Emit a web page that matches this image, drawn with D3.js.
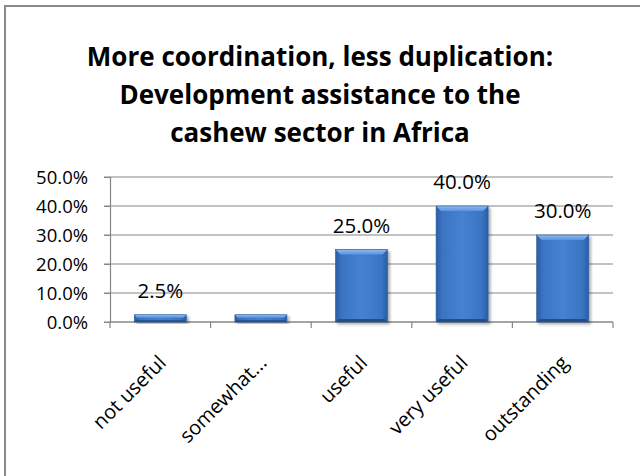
<!DOCTYPE html>
<html>
<head>
<meta charset="utf-8">
<script src="https://cdn.jsdelivr.net/npm/d3@7"></script>
<style>
  html, body { margin: 0; padding: 0; background: #fff; }
  svg { display: block; }
  text { font-family: "Open Sans", "Noto Sans", sans-serif; fill: #000; }
</style>
</head>
<body>
<svg id="chart" width="640" height="476"></svg>
<script>
const titleLines = ["More coordination, less duplication:", "Development assistance to the", "cashew sector in Africa"];
const categories = ["not useful", "somewhat...", "useful", "very useful", "outstanding"];
const values = [0.025, 0.025, 0.25, 0.40, 0.30];
const valueLabels = ["2.5%", "", "25.0%", "40.0%", "30.0%"];
const yTicks = [0, 0.1, 0.2, 0.3, 0.4, 0.5];

const svg = d3.select("#chart");
const W = 640, H = 476;
const plot = { left: 110, right: 613, top: 177, bottom: 322 };

// frame
svg.append("rect").attr("x", 5).attr("y", 6).attr("width", W + 20).attr("height", H + 20)
  .attr("fill", "#fff").attr("stroke", "#8a8a8a").attr("stroke-width", 2);

// defs
const defs = svg.append("defs");
const g1 = defs.append("linearGradient").attr("id", "barGrad").attr("x1", "0").attr("x2", "1").attr("y1", "0").attr("y2", "0");
g1.append("stop").attr("offset", "0%").attr("stop-color", "#2a5ea6");
g1.append("stop").attr("offset", "12%").attr("stop-color", "#3a74c2");
g1.append("stop").attr("offset", "50%").attr("stop-color", "#4582d2");
g1.append("stop").attr("offset", "88%").attr("stop-color", "#3a74c2");
g1.append("stop").attr("offset", "100%").attr("stop-color", "#2a5ea6");
const g2 = defs.append("linearGradient").attr("id", "topGrad").attr("x1", "0").attr("x2", "0").attr("y1", "0").attr("y2", "1");
g2.append("stop").attr("offset", "0%").attr("stop-color", "#8dbcf2");
g2.append("stop").attr("offset", "100%").attr("stop-color", "#5b93de");
const f = defs.append("filter").attr("id", "shadow").attr("x", "-20%").attr("y", "-20%").attr("width", "140%").attr("height", "140%");
f.append("feGaussianBlur").attr("in", "SourceAlpha").attr("stdDeviation", 1.5);
f.append("feOffset").attr("dx", 1.5).attr("dy", 2).attr("result", "ob");
f.append("feComponentTransfer").append("feFuncA").attr("type", "linear").attr("slope", 0.35);
const fm = f.append("feMerge");
fm.append("feMergeNode");
fm.append("feMergeNode").attr("in", "SourceGraphic");

// title
svg.append("g").selectAll("text").data(titleLines).join("text")
  .attr("x", 320).attr("y", (d, i) => 66 + i * 38)
  .attr("text-anchor", "middle").attr("font-weight", "bold").attr("font-size", 26)
  .text(d => d);

const x = d3.scaleBand().domain(categories).range([plot.left, plot.right]).paddingInner(0.483).paddingOuter(0.2415);
const y = d3.scaleLinear().domain([0, 0.5]).range([plot.bottom, plot.top]);

// gridlines
svg.append("g").selectAll("line").data(yTicks).join("line")
  .attr("x1", plot.left - 6).attr("x2", plot.right)
  .attr("y1", d => y(d)).attr("y2", d => y(d))
  .attr("stroke", "#868686").attr("stroke-width", 1.2);

// y axis
const yAxis = svg.append("g").attr("transform", `translate(${plot.left},0)`)
  .call(d3.axisLeft(y).tickValues(yTicks).tickFormat(d3.format(".1%")).tickSize(6).tickPadding(16));
yAxis.attr("font-family", null);
yAxis.select(".domain").attr("stroke", "#868686").attr("stroke-width", 1.2);
yAxis.selectAll(".tick line").attr("stroke", "#868686");
yAxis.selectAll(".tick text").attr("font-size", 18.5).attr("dy", "0.36em").attr("fill", "#000");

// x axis line and ticks at category boundaries
const step = x.step();
const bounds = d3.range(categories.length + 1).map(i => plot.left + i * step);
svg.append("line").attr("x1", plot.left).attr("x2", plot.right).attr("y1", plot.bottom).attr("y2", plot.bottom)
  .attr("stroke", "#868686").attr("stroke-width", 1.2);
svg.append("g").selectAll("line").data(bounds).join("line")
  .attr("x1", d => d).attr("x2", d => d).attr("y1", plot.bottom).attr("y2", plot.bottom + 6)
  .attr("stroke", "#868686").attr("stroke-width", 1.2);

// bars
const bars = svg.append("g").selectAll("g").data(categories).join("g").attr("filter", "url(#shadow)");
bars.each(function(c, i) {
  const g = d3.select(this);
  const x0 = x(c), bw = x.bandwidth();
  const yt = y(values[i]), yb = y(0);
  const h = yb - yt;
  const bev = Math.min(5, h / 2.5);
  g.append("rect").attr("x", x0).attr("y", yt).attr("width", bw).attr("height", h).attr("fill", "url(#barGrad)");
  g.append("path").attr("d", `M${x0},${yt}L${x0 + bw},${yt}L${x0 + bw - bev},${yt + bev}L${x0 + bev},${yt + bev}Z`).attr("fill", "url(#topGrad)");
  g.append("path").attr("d", `M${x0},${yb}L${x0 + bw},${yb}L${x0 + bw - bev * 0.6},${yb - bev * 0.6}L${x0 + bev * 0.6},${yb - bev * 0.6}Z`).attr("fill", "#234d88");
  g.append("rect").attr("x", x0).attr("y", yt).attr("width", bw).attr("height", h).attr("fill", "none").attr("stroke", "#2b5b9c").attr("stroke-width", 0.6);
});

// value labels
svg.append("g").selectAll("text").data(categories).join("text")
  .attr("x", c => x(c) + x.bandwidth() / 2)
  .attr("y", (c, i) => y(values[i]) - 17)
  .attr("text-anchor", "middle").attr("font-size", 20.5)
  .text((c, i) => valueLabels[i]);

// category labels
svg.append("g").selectAll("text").data(categories).join("text")
  .attr("transform", c => `translate(${x(c) + x.bandwidth() / 2 + 7},${plot.bottom + 42}) rotate(-45)`)
  .attr("text-anchor", "end").attr("font-size", 20)
  .text(c => c);
</script>
</body>
</html>
